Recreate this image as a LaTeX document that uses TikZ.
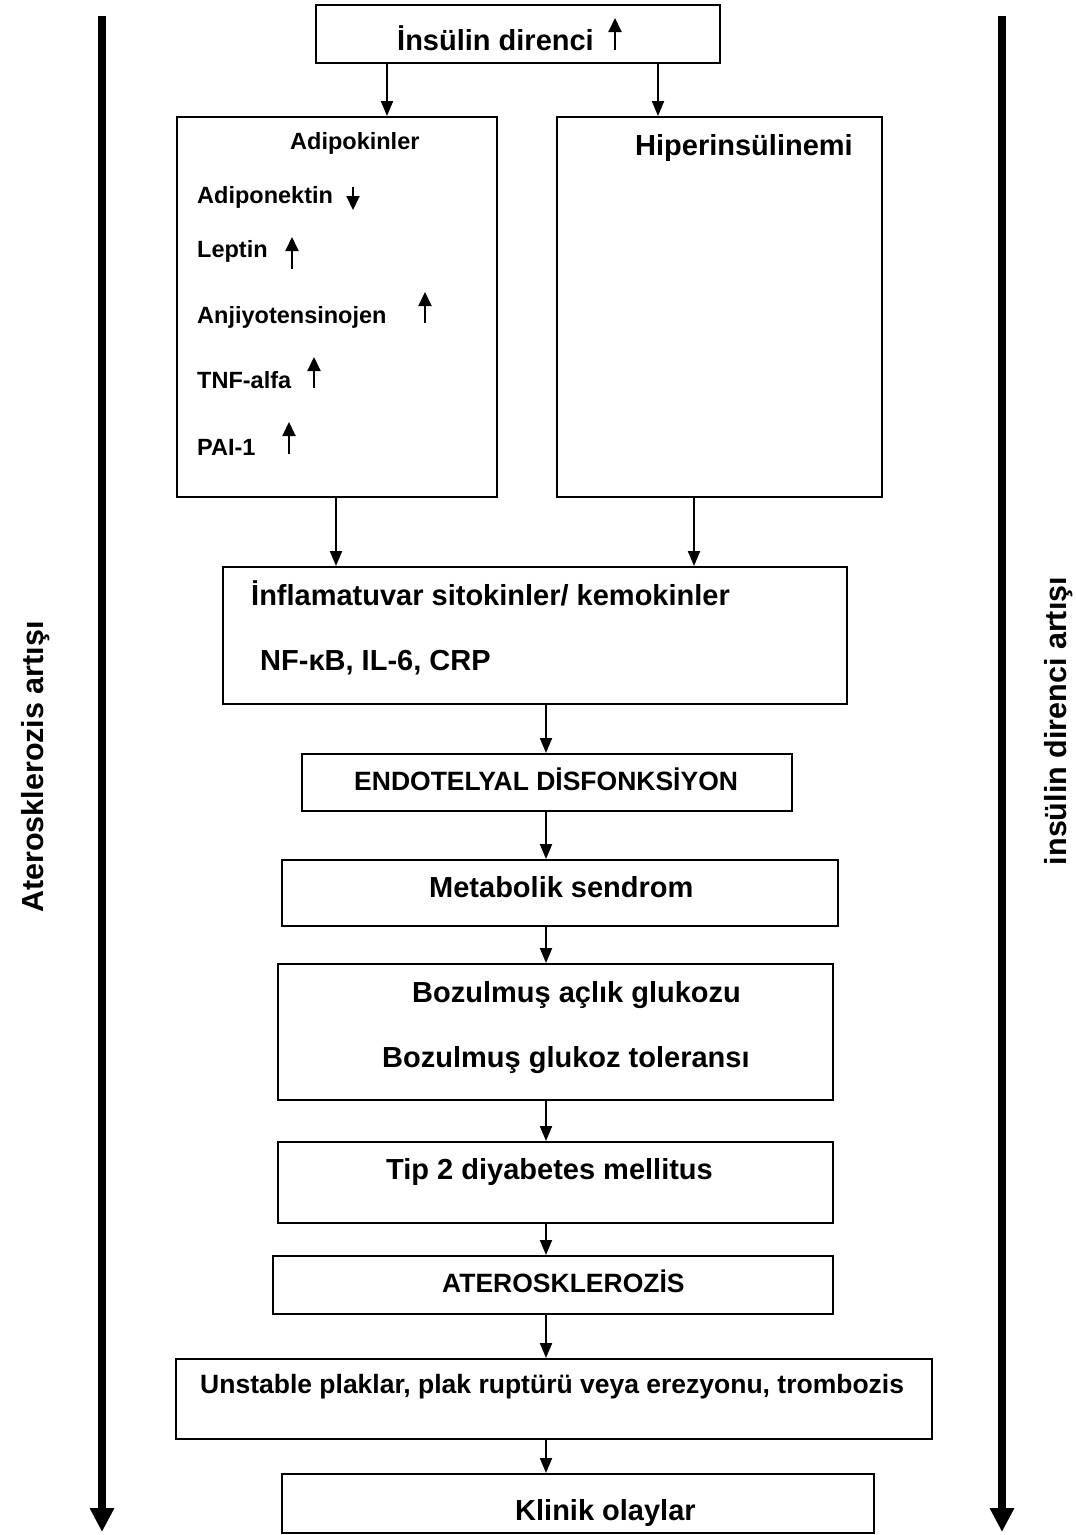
\documentclass[tikz,border=0pt]{standalone}
\usepackage{fontspec}
\setmainfont{Liberation Sans}
\usetikzlibrary{arrows.meta,positioning,calc}

\newcommand{\buyuk}{\fontsize{29}{34}\selectfont\bfseries}
\newcommand{\orta}{\fontsize{26.5}{31}\selectfont\bfseries}
\newcommand{\kucuk}{\fontsize{23.5}{28}\selectfont\bfseries}

\tikzset{
  kutu/.style={draw, line width=2pt, inner sep=0pt, anchor=north west},
  yazi/.style={inner sep=0pt, anchor=base west},
  ok/.style={line width=2pt, -{Triangle[width=12pt,length=15pt]}},
  mini/.style={line width=2pt, -{Triangle[width=13pt,length=14pt]}},
  yan/.style={line width=8pt, -{Triangle[width=23pt,length=24pt]}},
}

\begin{document}
\begin{tikzpicture}[x=1pt, y=-1pt]

  \useasboundingbox (0,0) rectangle (1076,1535);

  % columns for the connectors
  \coordinate (k1) at (387,0);
  \coordinate (k2) at (658,0);
  \coordinate (k3) at (336,0);
  \coordinate (k4) at (694,0);
  \coordinate (orta) at (546,0);

  % boxes
  \node[kutu, minimum width=404pt, minimum height=58pt] (ust) at (315,4) {};
  \node[kutu, minimum width=320pt, minimum height=380pt] (adip) at (176,116) {};
  \node[kutu, minimum width=325pt, minimum height=380pt] (hiper) at (556,116) {};
  \node[kutu, minimum width=624pt, minimum height=137pt] (inflam) at (222,566) {};
  \node[kutu, minimum width=490pt, minimum height=57pt] (endo) at (301,753) {};
  \node[kutu, minimum width=556pt, minimum height=66pt] (metab) at (281,859) {};
  \node[kutu, minimum width=555pt, minimum height=136pt] (bozul) at (277,963) {};
  \node[kutu, minimum width=555pt, minimum height=81pt] (tip) at (277,1141) {};
  \node[kutu, minimum width=560pt, minimum height=58pt] (atero) at (272,1255) {};
  \node[kutu, minimum width=756pt, minimum height=80pt] (unst) at (175,1358) {};
  \node[kutu, minimum width=592pt, minimum height=59pt] (klinik) at (281,1473) {};

  % texts
  \node[yazi, font=\buyuk] (tust) at (397,50) {İnsülin direnci};
  \node[yazi, font=\kucuk] (tadip) at (290,149) {Adipokinler};
  \node[yazi, font=\kucuk] (tadipo) at (197,203) {Adiponektin};
  \node[yazi, font=\kucuk] (tlep) at (197,257) {Leptin};
  \node[yazi, font=\kucuk] (tanj) at (197,323) {Anjiyotensinojen};
  \node[yazi, font=\kucuk] (ttnf) at (197,388) {TNF-alfa};
  \node[yazi, font=\kucuk] (tpai) at (197,455) {PAI-1};
  \node[yazi, font=\buyuk] (thiper) at (635,155) {Hiperinsülinemi};
  \node[yazi, font=\buyuk] (tinf1) at (251,605) {İnflamatuvar sitokinler/ kemokinler};
  \node[yazi, font=\buyuk] (tinf2) at (260,670) {NF-κB, IL-6, CRP};
  \node[yazi, font=\orta] (tendo) at (354,790) {ENDOTELYAL DİSFONKSİYON};
  \node[yazi, font=\buyuk] (tmetab) at (429,897) {Metabolik sendrom};
  \node[yazi, font=\buyuk] (tboz1) at (412,1002) {Bozulmuş açlık glukozu};
  \node[yazi, font=\buyuk] (tboz2) at (382,1067) {Bozulmuş glukoz toleransı};
  \node[yazi, font=\buyuk] (ttip) at (386,1179) {Tip 2 diyabetes mellitus};
  \node[yazi, font=\orta] (tatero) at (442,1292) {ATEROSKLEROZİS};
  \node[yazi, font=\orta] (tunst) at (200,1393) {Unstable plaklar, plak ruptürü veya erezyonu, trombozis};
  \node[yazi, font=\buyuk] (tklinik) at (515,1520) {Klinik olaylar};

  % up / down marks
  \draw[mini] (615,50) -- (615,18);
  \draw[mini] (353,187) -- (353,210);
  \draw[mini] (292,269) -- (292,237);
  \draw[mini] (425,323) -- (425,292);
  \draw[mini] (314,388) -- (314,357);
  \draw[mini] (289,454) -- (289,422);

  % connectors
  \draw[ok] (ust.south -| k1) -- (adip.north -| k1);
  \draw[ok] (ust.south -| k2) -- (hiper.north -| k2);
  \draw[ok] (adip.south -| k3) -- (inflam.north -| k3);
  \draw[ok] (hiper.south -| k4) -- (inflam.north -| k4);
  \foreach \a/\b in {inflam/endo, endo/metab, metab/bozul, bozul/tip, tip/atero, atero/unst, unst/klinik}
    \draw[ok] (\a.south -| orta) -- (\b.north -| orta);

  % side arrows
  \coordinate (solust) at (102,16);
  \coordinate (solalt) at (102,1532);
  \coordinate (sagust) at (1002,16);
  \coordinate (sagalt) at (1002,1532);
  \draw[yan] (solust) -- (solalt);
  \draw[yan] (sagust) -- (sagalt);

  \node[rotate=90, anchor=base, inner sep=0pt, font=\fontsize{30.5}{36}\selectfont\bfseries] (solyazi) at (43,767) {Aterosklerozis artışı};
  \node[rotate=90, anchor=base, inner sep=0pt, font=\fontsize{30.5}{36}\selectfont\bfseries] (sagyazi) at (1066,721) {insülin direnci artışı};

\end{tikzpicture}
\end{document}
